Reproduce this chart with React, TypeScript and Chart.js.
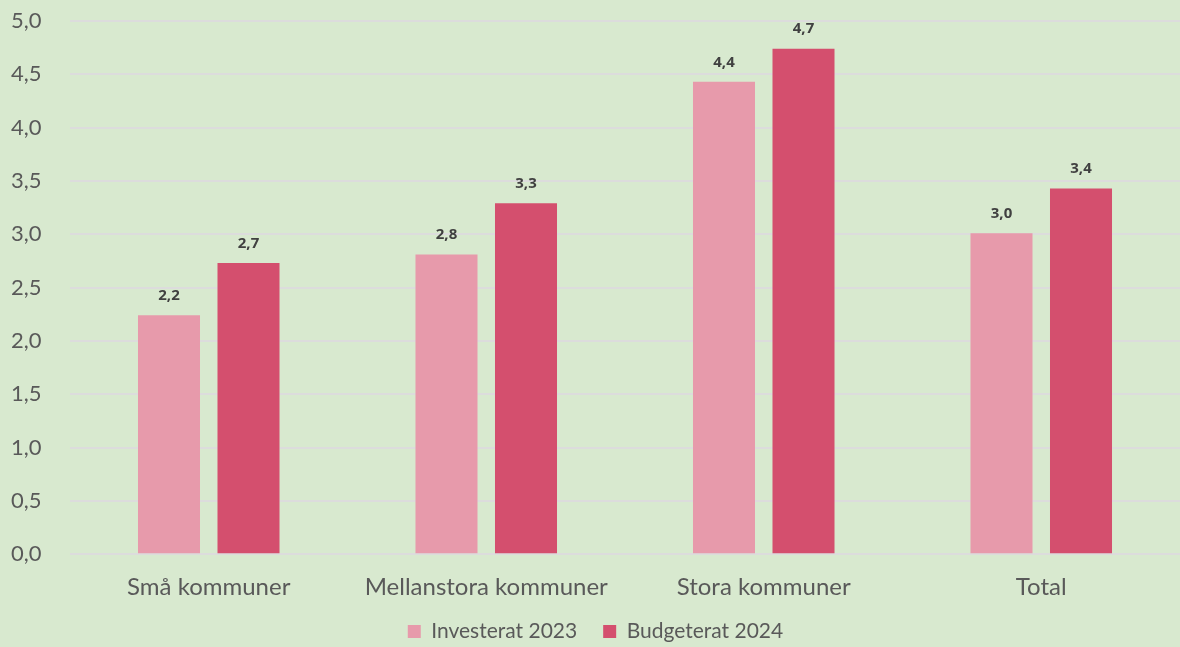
import React, { useEffect, useRef } from "react";
import { Chart, registerables } from "chart.js";

Chart.register(...registerables);

const categories = ["Små kommuner", "Mellanstora kommuner", "Stora kommuner", "Total"];
const investerat2023 = [2.24, 2.81, 4.43, 3.01];
const budgeterat2024 = [2.73, 3.29, 4.74, 3.43];
const seriesNames = ["Investerat 2023", "Budgeterat 2024"];

const fmt = (v: number) => v.toFixed(1).replace(".", ",");

const labelPlugin = {
  id: "barLabels",
  afterDatasetsDraw(chart: any) {
    const ctx = chart.ctx;
    ctx.save();
    ctx.font = "bold 15px 'Open Sans', Lato, sans-serif";
    ctx.fillStyle = "#404040";
    ctx.textAlign = "center";
    ctx.textBaseline = "bottom";
    chart.data.datasets.forEach((ds: any, i: number) => {
      const meta = chart.getDatasetMeta(i);
      meta.data.forEach((el: any, j: number) => {
        ctx.fillText(fmt(ds.data[j]), el.x, el.y - 12);
      });
    });
    ctx.restore();
  },
};

const bgPlugin = {
  id: "bg",
  beforeDraw(chart: any) {
    const ctx = chart.ctx;
    ctx.save();
    ctx.fillStyle = "#d8e9cf";
    ctx.fillRect(0, 0, chart.width, chart.height);
    ctx.restore();
  },
};

export default function App() {
  const ref = useRef<HTMLCanvasElement>(null);
  useEffect(() => {
    document.body.style.margin = "0";
    const chart = new Chart(ref.current!, {
      type: "bar",
      data: {
        labels: categories,
        datasets: [
          {
            label: seriesNames[0],
            data: investerat2023,
            backgroundColor: "#e79aab",
            categoryPercentage: 0.573,
            barPercentage: 0.78,
          },
          {
            label: seriesNames[1],
            data: budgeterat2024,
            backgroundColor: "#d44f6e",
            categoryPercentage: 0.573,
            barPercentage: 0.78,
          },
        ],
      },
      options: {
        animation: false,
        responsive: false,
        maintainAspectRatio: false,
        layout: { padding: { top: 21, right: 0, left: 11, bottom: -5 } },
        plugins: {
          legend: {
            position: "bottom",
            labels: {
              boxWidth: 13,
              boxHeight: 13,
              padding: 26,
              color: "#595959",
              font: { family: "Lato, 'Open Sans', sans-serif", size: 21 },
            },
          },
          tooltip: { enabled: false },
        },
        scales: {
          x: {
            grid: { display: false },
            border: { display: false },
            afterFit: (s: any) => {
              s.height -= 18;
            },
            ticks: {
              color: "#595959",
              padding: 11,
              font: { family: "Lato, 'Open Sans', sans-serif", size: 24 },
            },
          },
          y: {
            min: 0,
            max: 5,
            grid: { color: "#dcdcdc", lineWidth: 2, drawTicks: false },
            border: { display: false },
            afterFit: (s: any) => {
              s.width = 59;
            },
            ticks: {
              stepSize: 0.5,
              padding: 0,
              crossAlign: "far",
              color: "#595959",
              font: { family: "Lato, 'Open Sans', sans-serif", size: 22 },
              callback: (v: any) => fmt(Number(v)),
            },
          },
        },
      },
      plugins: [bgPlugin, labelPlugin],
    });
    return () => chart.destroy();
  }, []);
  return (
    <div style={{ width: 1180, height: 647 }}>
      <canvas ref={ref} width={1180} height={647} style={{ display: "block" }} />
    </div>
  );
}
